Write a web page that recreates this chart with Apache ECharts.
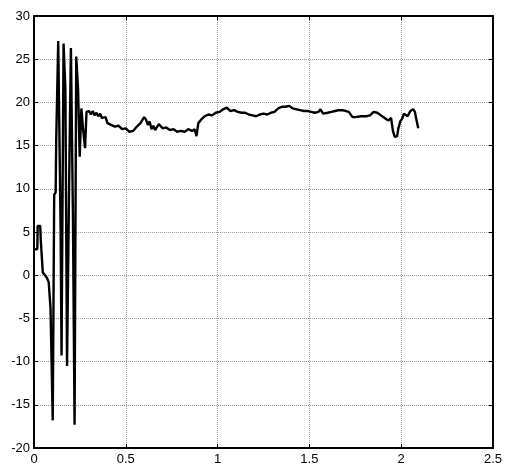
<!DOCTYPE html>
<html>
<head>
<meta charset="utf-8">
<script src="https://cdn.jsdelivr.net/npm/echarts@6/dist/echarts.min.js"></script>
<style>
  html, body { margin: 0; padding: 0; background: #fff; }
  #chart-container { width: 505px; height: 468px; }
</style>
</head>
<body>
<div id="chart-container"></div>
<script>
// sample times
var xs = [
    0, 0.018, 0.02, 0.034, 0.037, 0.044, 0.048, 0.06, 0.07, 0.08,
    0.087, 0.09, 0.097, 0.102, 0.107, 0.11, 0.118, 0.121, 0.128, 0.132,
    0.14, 0.145, 0.15, 0.157, 0.161, 0.168, 0.171, 0.176, 0.18, 0.187,
    0.191, 0.197, 0.201, 0.208, 0.212, 0.216, 0.221, 0.226, 0.23, 0.236,
    0.24, 0.245, 0.249, 0.254, 0.258, 0.264, 0.267, 0.274, 0.278, 0.283,
    0.286, 0.3, 0.31, 0.32, 0.33, 0.34, 0.35, 0.36, 0.37, 0.38,
    0.39, 0.40, 0.41, 0.42, 0.43, 0.44, 0.46, 0.48, 0.50, 0.52,
    0.54, 0.56, 0.58, 0.60, 0.61, 0.62, 0.63, 0.64, 0.65, 0.66,
    0.68, 0.70, 0.72, 0.74, 0.76, 0.78, 0.80, 0.82, 0.84, 0.86,
    0.875, 0.885, 0.89, 0.895, 0.91, 0.93, 0.95, 0.97, 0.99, 1.01,
    1.03, 1.05, 1.07, 1.09, 1.11, 1.13, 1.15, 1.17, 1.19, 1.21,
    1.23, 1.25, 1.27, 1.29, 1.31, 1.33, 1.35, 1.37, 1.39, 1.41,
    1.43, 1.45, 1.47, 1.49, 1.51, 1.53, 1.55, 1.56, 1.575, 1.60,
    1.62, 1.64, 1.66, 1.68, 1.70, 1.715, 1.735, 1.75, 1.78, 1.81,
    1.83, 1.85, 1.87, 1.89, 1.91, 1.93, 1.945, 1.955, 1.965, 1.978,
    1.985, 1.995, 2.005, 2.015, 2.025, 2.035, 2.05, 2.065, 2.075, 2.08,
    2.093
];
// signal values
var ys = [
    3.0, 3.0, 5.7, 5.7, 4.0, 4.0, 0.3, 0.0, -0.3, -0.8,
    -1.0, -3.8, -4.0, -16.8, -16.8, 9.3, 9.6, 15.6, 15.6, 27.1,
    27.1, 5.3, -9.3, -9.3, 26.8, 26.8, 21.5, 21.5, -10.5, -10.5,
    10.0, 10.0, 26.3, 26.3, 7.0, 7.0, -17.3, -17.3, 25.3, 25.3,
    21.5, 21.5, 13.7, 13.7, 19.3, 19.3, 17.0, 17.0, 14.7, 14.7,
    18.9, 19.0, 18.6, 19.0, 18.5, 18.8, 18.4, 18.7, 18.2, 18.0,
    18.3, 17.6, 17.8, 17.4, 17.6, 17.2, 17.3, 16.9, 17.0, 16.6,
    16.7, 17.2, 17.6, 18.3, 18.0, 17.4, 17.8, 16.9, 17.3, 16.8,
    17.5, 17.0, 17.1, 16.8, 16.9, 16.6, 16.7, 16.6, 16.9, 16.7,
    16.9, 16.1, 16.2, 17.6, 18.0, 18.4, 18.6, 18.5, 18.8, 18.9,
    19.2, 19.4, 19.0, 19.1, 18.9, 18.8, 18.8, 18.6, 18.5, 18.4,
    18.6, 18.7, 18.6, 18.8, 18.9, 19.3, 19.5, 19.5, 19.6, 19.3,
    19.2, 19.1, 19.0, 19.0, 18.9, 18.8, 18.9, 19.2, 18.7, 18.8,
    18.9, 19.0, 19.1, 19.1, 19.0, 18.9, 18.3, 18.3, 18.4, 18.4,
    18.5, 18.9, 18.8, 18.5, 18.2, 17.9, 18.2, 16.7, 16.0, 16.1,
    17.0, 17.8, 18.1, 18.7, 18.8, 18.4, 19.0, 19.2, 18.9, 18.3,
    17.0
];

var myChart = echarts.init(document.getElementById('chart-container'));

var data = [];
for (var i = 0; i < xs.length; i++) {
    data.push([xs[i], ys[i]]);
}

var labelFont = { color: '#000', fontSize: 13, fontFamily: 'Liberation Sans, Arial, sans-serif' };
var gridLine = { show: true, lineStyle: { color: '#999', type: [1, 1], width: 1 } };
var boxLine = { show: true, onZero: false, lineStyle: { color: '#000', width: 2 } };
var inTick = { show: true, inside: true, length: 4, lineStyle: { color: '#000', width: 1 } };

var option = {
    animation: false,
    grid: { left: 34, right: 8, top: 16, bottom: 20 },
    xAxis: [
        {
            type: 'value', min: 0, max: 2.5, interval: 0.5, position: 'bottom',
            axisLine: boxLine, axisTick: inTick, splitLine: gridLine,
            axisLabel: Object.assign({ margin: 5 }, labelFont)
        },
        {
            type: 'value', min: 0, max: 2.5, interval: 0.5, position: 'top',
            axisLine: boxLine, axisTick: inTick, splitLine: { show: false },
            axisLabel: { show: false }
        }
    ],
    yAxis: [
        {
            type: 'value', min: -20, max: 30, interval: 5, position: 'left',
            axisLine: boxLine, axisTick: inTick, splitLine: gridLine,
            axisLabel: Object.assign({ margin: 4 }, labelFont)
        },
        {
            type: 'value', min: -20, max: 30, interval: 5, position: 'right',
            axisLine: boxLine, axisTick: inTick, splitLine: { show: false },
            axisLabel: { show: false }
        }
    ],
    series: [
        {
            type: 'line',
            data: data,
            showSymbol: false,
            lineStyle: { color: '#000', width: 2.4 },
            itemStyle: { color: '#000' }
        }
    ]
};
myChart.setOption(option);
</script>
</body>
</html>
